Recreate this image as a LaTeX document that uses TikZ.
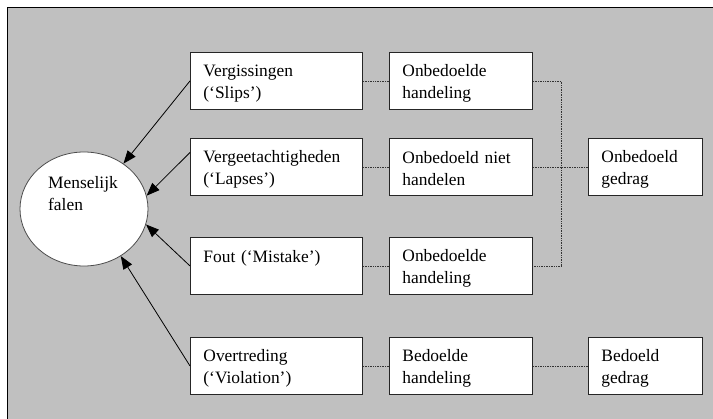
\documentclass[tikz,border=0pt]{standalone}
\usepackage{fontspec}
\setmainfont{Liberation Serif}
\usetikzlibrary{shapes.geometric,arrows.meta,calc}
\definecolor{bg}{RGB}{192,192,192}
\begin{document}
\begin{tikzpicture}[x=1pt,y=-1pt,
  txt/.style={font=\fontsize{17.4}{22}\selectfont},
  box/.style={txt, draw=black!85, line width=0.9pt, fill=white, rectangle, minimum height=57pt, inner xsep=13pt, inner ysep=0pt, align=left, anchor=north west, execute at begin node={\rule{0pt}{16pt}}},
  dot/.style={densely dotted, line width=0.7pt, black!80},
  arr/.style={-{Triangle[length=13pt,width=10pt]}, line width=0.8pt}]
\useasboundingbox (0,0) rectangle (713,419);
\clip (0,0) rectangle (713,419);
\fill[white] (0,0) rectangle (713,419);
\draw[fill=bg, line width=1pt] (7,8) rectangle (730,440);

\node[box, text width=146pt] (v1) at (190,52) {Vergissingen\\(‘Slips’)};
\node[box, text width=146pt] (v2) at (190,138) {Vergeetachtigheden\\(‘Lapses’)};
\node[box, text width=146pt] (v3) at (190,237) {Fout (‘Mistake’)\\\mbox{}};
\node[box, text width=146pt] (v4) at (190,337) {Overtreding\\(‘Violation’)};

\node[box, text width=117pt] (h1) at (389,52) {Onbedoelde\\handeling};
\node[box, text width=117pt] (h2) at (389,138) {Onbedoeld niet\\handelen};
\node[box, text width=117pt] (h3) at (389,237) {Onbedoelde\\handeling};
\node[box, text width=117pt] (h4) at (389,337) {Bedoelde\\handeling};

\node[box, text width=88pt] (g2) at (588,138) {Onbedoeld\\gedrag};
\node[box, text width=88pt] (g4) at (588,337) {Bedoeld\\gedrag};

\node[ellipse, draw=black!70, line width=0.8pt, fill=white, minimum width=128pt, minimum height=114pt, inner sep=0pt] (falen) at (84,209) {};
\node[txt, align=left, anchor=west, inner sep=0pt] (falentext) at (48,194) {Menselijk\\falen};

\draw[arr] (v1.west) -- (falen.49);
\draw[arr] ($(v2.north west)!0.25!(v2.south west)$) -- (falen.12);
\draw[arr] (v3.west) -- (falen.-14);
\draw[arr] (v4.west) -- (falen.-52);

\draw[dot] (v1.east) -- (h1.west);
\draw[dot] (v2.east) -- (h2.west);
\draw[dot] (v3.east) -- (h3.west);
\draw[dot] (v4.east) -- (h4.west);
\coordinate (j) at (561,166);
\draw[dot] (h1.east) -| (j) |- (h3.east);
\draw[dot] (h2.east) -- (g2.west);
\draw[dot] (h4.east) -- (g4.west);
\end{tikzpicture}
\end{document}
